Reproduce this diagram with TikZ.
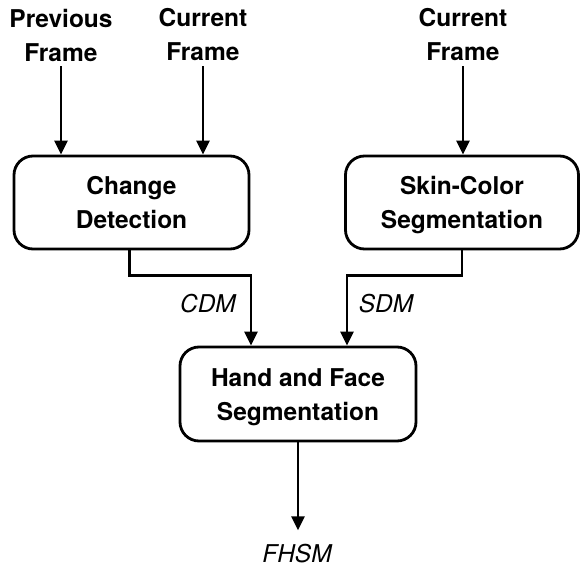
\documentclass[tikz,border=0pt]{standalone}
\usepackage{fontspec}
\setmainfont{TeX Gyre Heros}
\usetikzlibrary{arrows.meta}
\begin{document}
\begin{tikzpicture}[x=1pt,y=-1pt,
  every node/.style={inner sep=0pt,font=\fontsize{24.5}{34}\selectfont},
  lbl/.style={font=\fontsize{24.5}{34}\selectfont\bfseries,align=center},
  tag/.style={font=\fontsize{24.5}{34}\selectfont\itshape},
  boxtext/.style={font=\fontsize{24.5}{34}\selectfont\bfseries,align=center,yshift=-3pt},
  procbox/.style={draw,line width=2.8pt,rounded corners=19pt},
  arr/.style={line width=2.8pt,-{Triangle[length=14pt,width=13pt]}}]
\useasboundingbox (0,0) rectangle (581,567);
\node[lbl] (pf) at (61,35) {Previous\\Frame};
\node[lbl] (cf1) at (203,35) {Current\\Frame};
\node[lbl] (cf2) at (463,35) {Current\\Frame};
\node[procbox,minimum width=235pt,minimum height=93pt,label={[boxtext]center:{Change\\Detection\vphantom{g}}}] (cd) at (131.5,202.5) {};
\node[procbox,minimum width=233pt,minimum height=93pt,label={[boxtext]center:{Skin-Color\\Segmentation}}] (sk) at (462,202.5) {};
\node[procbox,minimum width=236pt,minimum height=94pt,label={[boxtext]center:{Hand and Face\\Segmentation}}] (hf) at (298,394) {};
\draw[arr] ([yshift=-5pt]pf.south) -- (pf.south |- cd.north);
\draw[arr] ([yshift=-5pt]cf1.south) -- (cf1.south |- cd.north);
\draw[arr] ([yshift=-5pt]cf2.south) -- (cf2.south |- sk.north);
\coordinate (cdin) at ([xshift=-47pt]hf.north);
\coordinate (skin) at ([xshift=49pt]hf.north);
\draw[arr] ([xshift=-2pt]cd.south) |- ([yshift=70pt]cdin) -- (cdin);
\draw[arr] (sk.south) |- ([yshift=70pt]skin) -- (skin);
\node[tag] (cdm) at (208,304) {CDM};
\node[tag] (sdm) at (386,304) {SDM};
\coordinate (out) at ([yshift=-88pt]hf.south);
\draw[arr] (hf.south) -- (out);
\node[tag] (fhsm) at (297,554) {FHSM};
\end{tikzpicture}
\end{document}
